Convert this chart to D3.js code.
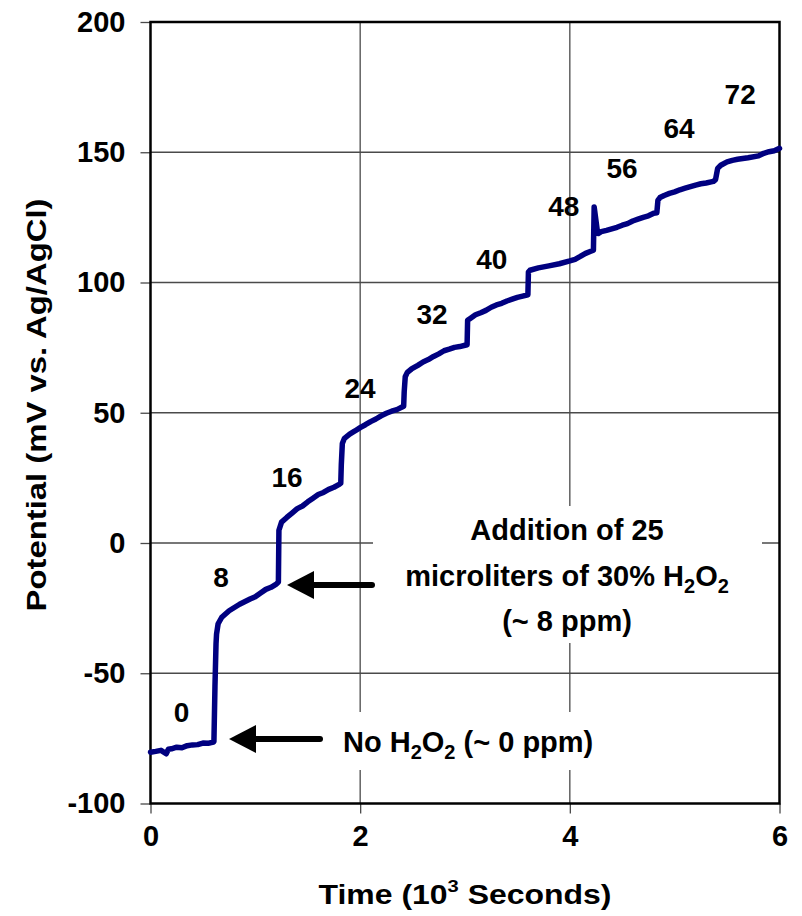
<!DOCTYPE html>
<html>
<head>
<meta charset="utf-8">
<script src="https://cdn.jsdelivr.net/npm/d3@7"></script>
<style>
  html, body { margin: 0; padding: 0; background: #fff; }
  svg { display: block; }
  text { font-family: "Liberation Sans", Arial, sans-serif; font-weight: bold; fill: #000; }
</style>
</head>
<body>
<svg id="chart" width="802" height="916"></svg>
<script>
// Elapsed time (10^3 s) and electrode potential (mV vs. Ag/AgCl)
const timeKs = [
  0, 0.05, 0.1, 0.15, 0.17, 0.2, 0.25, 0.3, 0.35, 0.4, 0.45, 0.5, 0.55, 0.6,
  0.605, 0.615, 0.625, 0.63, 0.645, 0.68, 0.75, 0.85, 0.95, 1.0, 1.05, 1.1, 1.15, 1.2, 1.22,
  1.225, 1.25, 1.3, 1.35, 1.4, 1.45, 1.5, 1.55, 1.6, 1.65, 1.7, 1.75, 1.8, 1.815,
  1.82, 1.83, 1.85, 1.9, 1.95, 2.0, 2.05, 2.1, 2.15, 2.2, 2.25, 2.3, 2.35, 2.4, 2.415,
  2.42, 2.43, 2.45, 2.49, 2.55, 2.6, 2.65, 2.7, 2.75, 2.8, 2.85, 2.9, 2.95, 3.0, 3.02,
  3.025, 3.05, 3.1, 3.15, 3.2, 3.25, 3.3, 3.35, 3.4, 3.45, 3.5, 3.55, 3.6,
  3.605, 3.62, 3.7, 3.8, 3.9, 4.0, 4.05, 4.1, 4.15, 4.2, 4.225,
  4.232, 4.26, 4.27, 4.3, 4.35, 4.4, 4.45, 4.5, 4.55, 4.6, 4.65, 4.7, 4.75, 4.8, 4.83,
  4.84, 4.86, 4.9, 4.95, 5.0, 5.05, 5.1, 5.15, 5.2, 5.25, 5.3, 5.37, 5.39,
  5.41, 5.44, 5.5, 5.55, 5.6, 5.7, 5.8, 5.85, 5.9, 5.95, 6.0
];
const potentialMv = [
  -80.3, -80.0, -79.6, -80.9, -79.2, -79.0, -78.4, -78.6, -77.8, -77.5, -77.4, -76.8, -76.9, -76.4,
  -76.2, -55, -38.7, -35, -31, -28.5, -26, -23.5, -21.5, -20.6, -19.2, -17.8, -17.0, -15.8, -15.0,
  4.9, 8.0, 9.8, 11.5, 13.2, 14.2, 15.8, 17.2, 18.6, 19.4, 20.6, 21.4, 22.5, 23.0,
  30, 38.2, 40.2, 41.8, 43.0, 44.3, 45.4, 46.6, 47.6, 48.8, 49.8, 50.6, 51.2, 52.2, 52.5,
  58, 63.8, 65.5, 66.8, 68.2, 69.5, 70.4, 71.6, 72.6, 73.8, 74.4, 75.1, 75.4, 75.9, 76.1,
  85.5, 86.2, 87.6, 88.4, 89.3, 90.5, 91.4, 92.0, 92.9, 93.6, 94.3, 94.8, 95.3,
  104.0, 104.7, 105.6, 106.4, 107.2, 108.3, 108.9, 110.0, 111.2, 112.0, 112.4,
  129, 120.5, 118.8, 119.5, 120.0, 120.6, 121.2, 122.0, 122.6, 123.6, 124.3, 125.0, 125.6, 126.6, 126.8,
  131.5, 132.6, 133.4, 134.2, 134.8, 135.6, 136.2, 136.8, 137.4, 137.9, 138.2, 138.8, 139.5,
  143.8, 145.0, 146.3, 146.9, 147.3, 147.9, 148.6, 149.6, 150.2, 150.6, 151.5
];

// Cumulative H2O2 dose (ppm) after each addition
const doses = ["0", "8", "16", "24", "32", "40", "48", "56", "64", "72"];
const doseTimes = [0.296, 0.673, 1.302, 1.998, 2.685, 3.255, 3.942, 4.498, 5.042, 5.625];
const dosePotentials = [-68.7, -16.9, 21.5, 55.7, 84.1, 105.2, 125.6, 140.2, 155.5, 168.5];

const xTicks = [0, 2, 4, 6];
const yTicks = [-100, -50, 0, 50, 100, 150, 200];

const svg = d3.select("#chart");
const x = d3.scaleLinear().domain([0, 6]).range([150.5, 779.5]);
const y = d3.scaleLinear().domain([-100, 200]).range([803.5, 22]);

// Grid
const grid = svg.append("g").attr("stroke", "#4a4a4a").attr("stroke-width", 1.3);
grid.selectAll("line.gy").data(yTicks.filter(v => v > -100 && v < 200)).join("line")
  .attr("x1", x(0)).attr("x2", x(6)).attr("y1", d => y(d)).attr("y2", d => y(d));
grid.selectAll("line.gx").data(xTicks.filter(v => v > 0 && v < 6)).join("line")
  .attr("x1", d => x(d)).attr("x2", d => x(d)).attr("y1", y(200)).attr("y2", y(-100));

// Axes (plain hyphen for negative numbers)
const fmt = d => String(d);
const xAxis = d3.axisBottom(x).tickValues(xTicks).tickSize(10).tickPadding(12).tickFormat(fmt);
const yAxis = d3.axisLeft(y).tickValues(yTicks).tickSize(10).tickPadding(15).tickFormat(fmt);

const gx = svg.append("g").attr("transform", `translate(0,${y(-100)})`).call(xAxis);
const gy = svg.append("g").attr("transform", `translate(${x(0)},0)`).call(yAxis);
[gx, gy].forEach(g => {
  g.select(".domain").remove();
  g.selectAll(".tick line").attr("stroke", "#4a4a4a").attr("stroke-width", 1.3);
  g.selectAll(".tick text").style("font-family", "'Liberation Sans', Arial, sans-serif")
    .style("font-weight", "bold").style("font-size", "29px").attr("fill", "#000");
});

// Plot frame
svg.append("rect")
  .attr("x", x(0)).attr("y", y(200))
  .attr("width", x(6) - x(0)).attr("height", y(-100) - y(200))
  .attr("fill", "none").attr("stroke", "#000").attr("stroke-width", 2.5);

// Annotation backgrounds hide grid lines behind the notes
svg.append("rect").attr("x", 373).attr("y", 506).attr("width", 389).attr("height", 137).attr("fill", "#fff");
svg.append("rect").attr("x", 336).attr("y", 712).attr("width", 290).attr("height", 58).attr("fill", "#fff");

// Potential trace
const pts = timeKs.map((t, i) => [t, potentialMv[i]]);
svg.append("path")
  .datum(pts)
  .attr("fill", "none")
  .attr("stroke", "#000080")
  .attr("stroke-width", 5.5)
  .attr("stroke-linejoin", "round")
  .attr("stroke-linecap", "round")
  .attr("d", d3.line().x(d => x(d[0])).y(d => y(d[1])));

// Dose labels
svg.append("g").selectAll("text").data(doses).join("text")
  .attr("x", (d, i) => x(doseTimes[i]))
  .attr("y", (d, i) => y(dosePotentials[i]))
  .attr("text-anchor", "middle")
  .style("font-size", "28px")
  .text(d => d);

// Axis titles
svg.append("text")
  .attr("x", 465).attr("y", 904)
  .attr("text-anchor", "middle")
  .attr("textLength", 293).attr("lengthAdjust", "spacingAndGlyphs")
  .style("font-size", "27px")
  .call(t => {
    t.append("tspan").text("Time (10");
    t.append("tspan").attr("dy", -12).style("font-size", "17px").text("3");
    t.append("tspan").attr("dy", 12).text(" Seconds)");
  });

svg.append("text")
  .attr("transform", "translate(46,405) rotate(-90)")
  .attr("text-anchor", "middle")
  .attr("textLength", 413).attr("lengthAdjust", "spacingAndGlyphs")
  .style("font-size", "28px")
  .text("Potential (mV vs. Ag/AgCl)");

// Arrow helper
function arrow(x1, xTip, yy) {
  svg.append("line").attr("x1", x1).attr("x2", xTip + 20).attr("y1", yy).attr("y2", yy)
    .attr("stroke", "#000").attr("stroke-width", 6).attr("stroke-linecap", "round");
  svg.append("path")
    .attr("d", `M${xTip},${yy} L${xTip + 27},${yy - 14} L${xTip + 27},${yy + 14} Z`)
    .attr("fill", "#000");
}
arrow(320, 229, 739);
arrow(372, 287, 585);

// Notes
function chem(sel, before, after) {
  sel.append("tspan").text(before + "H");
  sel.append("tspan").attr("dy", 7).style("font-size", "20px").text("2");
  sel.append("tspan").attr("dy", -7).text("O");
  sel.append("tspan").attr("dy", 7).style("font-size", "20px").text("2");
  sel.append("tspan").attr("dy", -7).text(after);
}
svg.append("text").attr("x", 343).attr("y", 752).style("font-size", "29px")
  .call(t => chem(t, "No ", " (~ 0 ppm)"));

svg.append("text").attr("x", 567).attr("y", 540).attr("text-anchor", "middle")
  .style("font-size", "29px").text("Addition of 25");
svg.append("text").attr("x", 567).attr("y", 586).attr("text-anchor", "middle")
  .style("font-size", "29px").call(t => chem(t, "microliters of 30% ", ""));
svg.append("text").attr("x", 567).attr("y", 631).attr("text-anchor", "middle")
  .style("font-size", "29px").text("(~ 8 ppm)");
</script>
</body>
</html>
